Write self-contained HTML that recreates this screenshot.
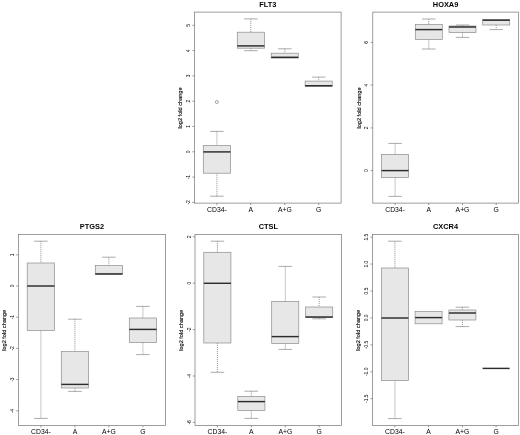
<!DOCTYPE html>
<html><head><meta charset="utf-8"><title>boxplots</title>
<style>
html,body{margin:0;padding:0;background:#fff;}
svg{display:block;font-family:"Liberation Sans",Arial,sans-serif;}
</style></head><body>
<svg width="520" height="435" viewBox="0 0 520 435">
<rect width="520" height="435" fill="#fff"/>
<rect x="194.5" y="12.1" width="146.6" height="191.0" fill="none" stroke="#747474" stroke-width="0.7"/>
<text x="267.8" y="6.7" text-anchor="middle" font-size="7.4" font-weight="bold" fill="#000">FLT3</text>
<line x1="192.3" y1="25.3" x2="194.5" y2="25.3" stroke="#747474" stroke-width="0.7" />
<text transform="translate(190.1,25.3) rotate(-90)" text-anchor="middle" font-size="4.9" fill="#000">5</text>
<line x1="192.3" y1="50.6" x2="194.5" y2="50.6" stroke="#747474" stroke-width="0.7" />
<text transform="translate(190.1,50.6) rotate(-90)" text-anchor="middle" font-size="4.9" fill="#000">4</text>
<line x1="192.3" y1="75.9" x2="194.5" y2="75.9" stroke="#747474" stroke-width="0.7" />
<text transform="translate(190.1,75.9) rotate(-90)" text-anchor="middle" font-size="4.9" fill="#000">3</text>
<line x1="192.3" y1="101.2" x2="194.5" y2="101.2" stroke="#747474" stroke-width="0.7" />
<text transform="translate(190.1,101.2) rotate(-90)" text-anchor="middle" font-size="4.9" fill="#000">2</text>
<line x1="192.3" y1="126.5" x2="194.5" y2="126.5" stroke="#747474" stroke-width="0.7" />
<text transform="translate(190.1,126.5) rotate(-90)" text-anchor="middle" font-size="4.9" fill="#000">1</text>
<line x1="192.3" y1="151.8" x2="194.5" y2="151.8" stroke="#747474" stroke-width="0.7" />
<text transform="translate(190.1,151.8) rotate(-90)" text-anchor="middle" font-size="4.9" fill="#000">0</text>
<line x1="192.3" y1="177.1" x2="194.5" y2="177.1" stroke="#747474" stroke-width="0.7" />
<text transform="translate(190.1,177.1) rotate(-90)" text-anchor="middle" font-size="4.9" fill="#000">-1</text>
<line x1="192.3" y1="202.4" x2="194.5" y2="202.4" stroke="#747474" stroke-width="0.7" />
<text transform="translate(190.1,202.4) rotate(-90)" text-anchor="middle" font-size="4.9" fill="#000">-2</text>
<text transform="translate(182.2,108.0) rotate(-90)" text-anchor="middle" font-size="5.6" fill="#000" stroke="#000" stroke-width="0.12">log2 fold change</text>
<line x1="216.9" y1="203.1" x2="216.9" y2="205.1" stroke="#747474" stroke-width="0.7" />
<text x="216.9" y="211.5" text-anchor="middle" font-size="6.8" fill="#000">CD34-</text>
<line x1="250.8" y1="203.1" x2="250.8" y2="205.1" stroke="#747474" stroke-width="0.7" />
<text x="250.8" y="211.5" text-anchor="middle" font-size="6.8" fill="#000">A</text>
<line x1="284.8" y1="203.1" x2="284.8" y2="205.1" stroke="#747474" stroke-width="0.7" />
<text x="284.8" y="211.5" text-anchor="middle" font-size="6.8" fill="#000">A+G</text>
<line x1="318.7" y1="203.1" x2="318.7" y2="205.1" stroke="#747474" stroke-width="0.7" />
<text x="318.7" y="211.5" text-anchor="middle" font-size="6.8" fill="#000">G</text>
<line x1="216.9" y1="131.4" x2="216.9" y2="145.5" stroke="#707070" stroke-width="0.7" stroke-dasharray="1.1 0.9"/>
<line x1="210.1" y1="131.4" x2="223.7" y2="131.4" stroke="#868686" stroke-width="0.7" />
<line x1="216.9" y1="173.2" x2="216.9" y2="196.2" stroke="#707070" stroke-width="0.7" stroke-dasharray="1.1 0.9"/>
<line x1="210.1" y1="196.2" x2="223.7" y2="196.2" stroke="#868686" stroke-width="0.7" />
<rect x="203.3" y="145.5" width="27.1" height="27.7" fill="#e7e7e7" stroke="#8c8c8c" stroke-width="0.7"/>
<line x1="203.3" y1="151.9" x2="230.5" y2="151.9" stroke="#2c2c2c" stroke-width="1.45" />
<line x1="250.8" y1="18.9" x2="250.8" y2="32.2" stroke="#707070" stroke-width="0.7" stroke-dasharray="1.1 0.9"/>
<line x1="244.0" y1="18.9" x2="257.6" y2="18.9" stroke="#868686" stroke-width="0.7" />
<line x1="250.8" y1="48.2" x2="250.8" y2="50.7" stroke="#707070" stroke-width="0.7" stroke-dasharray="1.1 0.9"/>
<line x1="244.0" y1="50.7" x2="257.6" y2="50.7" stroke="#868686" stroke-width="0.7" />
<rect x="237.3" y="32.2" width="27.1" height="16.0" fill="#e7e7e7" stroke="#8c8c8c" stroke-width="0.7"/>
<line x1="237.3" y1="45.9" x2="264.4" y2="45.9" stroke="#2c2c2c" stroke-width="1.45" />
<line x1="284.8" y1="48.8" x2="284.8" y2="53.2" stroke="#707070" stroke-width="0.7" stroke-dasharray="1.1 0.9"/>
<line x1="278.0" y1="48.8" x2="291.6" y2="48.8" stroke="#868686" stroke-width="0.7" />
<rect x="271.2" y="53.2" width="27.1" height="4.9" fill="#e7e7e7" stroke="#8c8c8c" stroke-width="0.7"/>
<line x1="271.2" y1="57.3" x2="298.3" y2="57.3" stroke="#2c2c2c" stroke-width="1.45" />
<line x1="318.7" y1="77.1" x2="318.7" y2="81.1" stroke="#707070" stroke-width="0.7" stroke-dasharray="1.1 0.9"/>
<line x1="311.9" y1="77.1" x2="325.5" y2="77.1" stroke="#868686" stroke-width="0.7" />
<rect x="305.1" y="81.1" width="27.1" height="5.5" fill="#e7e7e7" stroke="#8c8c8c" stroke-width="0.7"/>
<line x1="305.1" y1="85.7" x2="332.3" y2="85.7" stroke="#2c2c2c" stroke-width="1.45" />
<circle cx="216.9" cy="102.0" r="1.5" fill="none" stroke="#707070" stroke-width="0.6"/>
<rect x="372.8" y="12.1" width="145.7" height="191.0" fill="none" stroke="#747474" stroke-width="0.7"/>
<text x="445.6" y="6.7" text-anchor="middle" font-size="7.4" font-weight="bold" fill="#000">HOXA9</text>
<line x1="370.6" y1="42.4" x2="372.8" y2="42.4" stroke="#747474" stroke-width="0.7" />
<text transform="translate(368.4,42.4) rotate(-90)" text-anchor="middle" font-size="4.9" fill="#000">6</text>
<line x1="370.6" y1="85.1" x2="372.8" y2="85.1" stroke="#747474" stroke-width="0.7" />
<text transform="translate(368.4,85.1) rotate(-90)" text-anchor="middle" font-size="4.9" fill="#000">4</text>
<line x1="370.6" y1="127.9" x2="372.8" y2="127.9" stroke="#747474" stroke-width="0.7" />
<text transform="translate(368.4,127.9) rotate(-90)" text-anchor="middle" font-size="4.9" fill="#000">2</text>
<line x1="370.6" y1="170.6" x2="372.8" y2="170.6" stroke="#747474" stroke-width="0.7" />
<text transform="translate(368.4,170.6) rotate(-90)" text-anchor="middle" font-size="4.9" fill="#000">0</text>
<text transform="translate(360.5,108.0) rotate(-90)" text-anchor="middle" font-size="5.6" fill="#000" stroke="#000" stroke-width="0.12">log2 fold change</text>
<line x1="395.1" y1="203.1" x2="395.1" y2="205.1" stroke="#747474" stroke-width="0.7" />
<text x="395.1" y="211.5" text-anchor="middle" font-size="6.8" fill="#000">CD34-</text>
<line x1="428.8" y1="203.1" x2="428.8" y2="205.1" stroke="#747474" stroke-width="0.7" />
<text x="428.8" y="211.5" text-anchor="middle" font-size="6.8" fill="#000">A</text>
<line x1="462.5" y1="203.1" x2="462.5" y2="205.1" stroke="#747474" stroke-width="0.7" />
<text x="462.5" y="211.5" text-anchor="middle" font-size="6.8" fill="#000">A+G</text>
<line x1="496.2" y1="203.1" x2="496.2" y2="205.1" stroke="#747474" stroke-width="0.7" />
<text x="496.2" y="211.5" text-anchor="middle" font-size="6.8" fill="#000">G</text>
<line x1="395.1" y1="143.4" x2="395.1" y2="154.4" stroke="#707070" stroke-width="0.7" stroke-dasharray="1.1 0.9"/>
<line x1="388.3" y1="143.4" x2="401.8" y2="143.4" stroke="#868686" stroke-width="0.7" />
<line x1="395.1" y1="177.4" x2="395.1" y2="196.4" stroke="#707070" stroke-width="0.7" stroke-dasharray="1.1 0.9"/>
<line x1="388.3" y1="196.4" x2="401.8" y2="196.4" stroke="#868686" stroke-width="0.7" />
<rect x="381.6" y="154.4" width="27.0" height="23.0" fill="#e7e7e7" stroke="#8c8c8c" stroke-width="0.7"/>
<line x1="381.6" y1="170.6" x2="408.6" y2="170.6" stroke="#2c2c2c" stroke-width="1.45" />
<line x1="428.8" y1="19.0" x2="428.8" y2="24.4" stroke="#707070" stroke-width="0.7" stroke-dasharray="1.1 0.9"/>
<line x1="422.0" y1="19.0" x2="435.5" y2="19.0" stroke="#868686" stroke-width="0.7" />
<line x1="428.8" y1="39.6" x2="428.8" y2="49.0" stroke="#707070" stroke-width="0.7" stroke-dasharray="1.1 0.9"/>
<line x1="422.0" y1="49.0" x2="435.5" y2="49.0" stroke="#868686" stroke-width="0.7" />
<rect x="415.3" y="24.4" width="27.0" height="15.2" fill="#e7e7e7" stroke="#8c8c8c" stroke-width="0.7"/>
<line x1="415.3" y1="29.6" x2="442.3" y2="29.6" stroke="#2c2c2c" stroke-width="1.45" />
<line x1="462.5" y1="25.0" x2="462.5" y2="26.0" stroke="#707070" stroke-width="0.7" stroke-dasharray="1.1 0.9"/>
<line x1="455.8" y1="25.0" x2="469.3" y2="25.0" stroke="#868686" stroke-width="0.7" />
<line x1="462.5" y1="32.4" x2="462.5" y2="37.4" stroke="#707070" stroke-width="0.7" stroke-dasharray="1.1 0.9"/>
<line x1="455.8" y1="37.4" x2="469.3" y2="37.4" stroke="#868686" stroke-width="0.7" />
<rect x="449.0" y="26.0" width="27.0" height="6.4" fill="#e7e7e7" stroke="#8c8c8c" stroke-width="0.7"/>
<line x1="449.0" y1="27.0" x2="476.0" y2="27.0" stroke="#2c2c2c" stroke-width="1.45" />
<line x1="496.2" y1="25.0" x2="496.2" y2="29.6" stroke="#707070" stroke-width="0.7" stroke-dasharray="1.1 0.9"/>
<line x1="489.5" y1="29.6" x2="503.0" y2="29.6" stroke="#868686" stroke-width="0.7" />
<rect x="482.7" y="19.4" width="27.0" height="5.6" fill="#e7e7e7" stroke="#8c8c8c" stroke-width="0.7"/>
<line x1="482.7" y1="20.2" x2="509.7" y2="20.2" stroke="#2c2c2c" stroke-width="1.45" />
<rect x="18.4" y="234.4" width="147.0" height="191.0" fill="none" stroke="#747474" stroke-width="0.7"/>
<text x="91.9" y="229.0" text-anchor="middle" font-size="7.4" font-weight="bold" fill="#000">PTGS2</text>
<line x1="16.2" y1="254.8" x2="18.4" y2="254.8" stroke="#747474" stroke-width="0.7" />
<text transform="translate(14.0,254.8) rotate(-90)" text-anchor="middle" font-size="4.9" fill="#000">1</text>
<line x1="16.2" y1="286.0" x2="18.4" y2="286.0" stroke="#747474" stroke-width="0.7" />
<text transform="translate(14.0,286.0) rotate(-90)" text-anchor="middle" font-size="4.9" fill="#000">0</text>
<line x1="16.2" y1="317.2" x2="18.4" y2="317.2" stroke="#747474" stroke-width="0.7" />
<text transform="translate(14.0,317.2) rotate(-90)" text-anchor="middle" font-size="4.9" fill="#000">-1</text>
<line x1="16.2" y1="348.4" x2="18.4" y2="348.4" stroke="#747474" stroke-width="0.7" />
<text transform="translate(14.0,348.4) rotate(-90)" text-anchor="middle" font-size="4.9" fill="#000">-2</text>
<line x1="16.2" y1="379.6" x2="18.4" y2="379.6" stroke="#747474" stroke-width="0.7" />
<text transform="translate(14.0,379.6) rotate(-90)" text-anchor="middle" font-size="4.9" fill="#000">-3</text>
<line x1="16.2" y1="410.9" x2="18.4" y2="410.9" stroke="#747474" stroke-width="0.7" />
<text transform="translate(14.0,410.9) rotate(-90)" text-anchor="middle" font-size="4.9" fill="#000">-4</text>
<text transform="translate(6.1,330.3) rotate(-90)" text-anchor="middle" font-size="5.6" fill="#000" stroke="#000" stroke-width="0.12">log2 fold change</text>
<line x1="40.9" y1="425.4" x2="40.9" y2="427.4" stroke="#747474" stroke-width="0.7" />
<text x="40.9" y="433.8" text-anchor="middle" font-size="6.8" fill="#000">CD34-</text>
<line x1="74.9" y1="425.4" x2="74.9" y2="427.4" stroke="#747474" stroke-width="0.7" />
<text x="74.9" y="433.8" text-anchor="middle" font-size="6.8" fill="#000">A</text>
<line x1="108.9" y1="425.4" x2="108.9" y2="427.4" stroke="#747474" stroke-width="0.7" />
<text x="108.9" y="433.8" text-anchor="middle" font-size="6.8" fill="#000">A+G</text>
<line x1="142.9" y1="425.4" x2="142.9" y2="427.4" stroke="#747474" stroke-width="0.7" />
<text x="142.9" y="433.8" text-anchor="middle" font-size="6.8" fill="#000">G</text>
<line x1="40.9" y1="241.2" x2="40.9" y2="263.0" stroke="#707070" stroke-width="0.7" stroke-dasharray="1.1 0.9"/>
<line x1="34.1" y1="241.2" x2="47.7" y2="241.2" stroke="#868686" stroke-width="0.7" />
<line x1="40.9" y1="330.4" x2="40.9" y2="418.4" stroke="#707070" stroke-width="0.7" stroke-dasharray="1.1 0.9"/>
<line x1="34.1" y1="418.4" x2="47.7" y2="418.4" stroke="#868686" stroke-width="0.7" />
<rect x="27.2" y="263.0" width="27.2" height="67.4" fill="#e7e7e7" stroke="#8c8c8c" stroke-width="0.7"/>
<line x1="27.2" y1="286.0" x2="54.5" y2="286.0" stroke="#2c2c2c" stroke-width="1.45" />
<line x1="74.9" y1="319.2" x2="74.9" y2="351.6" stroke="#707070" stroke-width="0.7" stroke-dasharray="1.1 0.9"/>
<line x1="68.1" y1="319.2" x2="81.7" y2="319.2" stroke="#868686" stroke-width="0.7" />
<line x1="74.9" y1="388.0" x2="74.9" y2="391.4" stroke="#707070" stroke-width="0.7" stroke-dasharray="1.1 0.9"/>
<line x1="68.1" y1="391.4" x2="81.7" y2="391.4" stroke="#868686" stroke-width="0.7" />
<rect x="61.3" y="351.6" width="27.2" height="36.4" fill="#e7e7e7" stroke="#8c8c8c" stroke-width="0.7"/>
<line x1="61.3" y1="384.4" x2="88.5" y2="384.4" stroke="#2c2c2c" stroke-width="1.45" />
<line x1="108.9" y1="257.2" x2="108.9" y2="265.6" stroke="#707070" stroke-width="0.7" stroke-dasharray="1.1 0.9"/>
<line x1="102.1" y1="257.2" x2="115.7" y2="257.2" stroke="#868686" stroke-width="0.7" />
<rect x="95.3" y="265.6" width="27.2" height="8.8" fill="#e7e7e7" stroke="#8c8c8c" stroke-width="0.7"/>
<line x1="95.3" y1="273.9" x2="122.5" y2="273.9" stroke="#2c2c2c" stroke-width="1.45" />
<line x1="142.9" y1="306.4" x2="142.9" y2="318.0" stroke="#707070" stroke-width="0.7" stroke-dasharray="1.1 0.9"/>
<line x1="136.1" y1="306.4" x2="149.7" y2="306.4" stroke="#868686" stroke-width="0.7" />
<line x1="142.9" y1="342.6" x2="142.9" y2="354.6" stroke="#707070" stroke-width="0.7" stroke-dasharray="1.1 0.9"/>
<line x1="136.1" y1="354.6" x2="149.7" y2="354.6" stroke="#868686" stroke-width="0.7" />
<rect x="129.3" y="318.0" width="27.2" height="24.6" fill="#e7e7e7" stroke="#8c8c8c" stroke-width="0.7"/>
<line x1="129.3" y1="329.4" x2="156.6" y2="329.4" stroke="#2c2c2c" stroke-width="1.45" />
<rect x="195.0" y="234.4" width="146.6" height="191.0" fill="none" stroke="#747474" stroke-width="0.7"/>
<text x="268.3" y="229.0" text-anchor="middle" font-size="7.4" font-weight="bold" fill="#000">CTSL</text>
<line x1="192.8" y1="236.8" x2="195.0" y2="236.8" stroke="#747474" stroke-width="0.7" />
<text transform="translate(190.6,236.8) rotate(-90)" text-anchor="middle" font-size="4.9" fill="#000">2</text>
<line x1="192.8" y1="283.2" x2="195.0" y2="283.2" stroke="#747474" stroke-width="0.7" />
<text transform="translate(190.6,283.2) rotate(-90)" text-anchor="middle" font-size="4.9" fill="#000">0</text>
<line x1="192.8" y1="329.6" x2="195.0" y2="329.6" stroke="#747474" stroke-width="0.7" />
<text transform="translate(190.6,329.6) rotate(-90)" text-anchor="middle" font-size="4.9" fill="#000">-2</text>
<line x1="192.8" y1="376.0" x2="195.0" y2="376.0" stroke="#747474" stroke-width="0.7" />
<text transform="translate(190.6,376.0) rotate(-90)" text-anchor="middle" font-size="4.9" fill="#000">-4</text>
<line x1="192.8" y1="422.4" x2="195.0" y2="422.4" stroke="#747474" stroke-width="0.7" />
<text transform="translate(190.6,422.4) rotate(-90)" text-anchor="middle" font-size="4.9" fill="#000">-6</text>
<text transform="translate(182.7,330.3) rotate(-90)" text-anchor="middle" font-size="5.6" fill="#000" stroke="#000" stroke-width="0.12">log2 fold change</text>
<line x1="217.4" y1="425.4" x2="217.4" y2="427.4" stroke="#747474" stroke-width="0.7" />
<text x="217.4" y="433.8" text-anchor="middle" font-size="6.8" fill="#000">CD34-</text>
<line x1="251.3" y1="425.4" x2="251.3" y2="427.4" stroke="#747474" stroke-width="0.7" />
<text x="251.3" y="433.8" text-anchor="middle" font-size="6.8" fill="#000">A</text>
<line x1="285.3" y1="425.4" x2="285.3" y2="427.4" stroke="#747474" stroke-width="0.7" />
<text x="285.3" y="433.8" text-anchor="middle" font-size="6.8" fill="#000">A+G</text>
<line x1="319.2" y1="425.4" x2="319.2" y2="427.4" stroke="#747474" stroke-width="0.7" />
<text x="319.2" y="433.8" text-anchor="middle" font-size="6.8" fill="#000">G</text>
<line x1="217.4" y1="241.2" x2="217.4" y2="252.3" stroke="#707070" stroke-width="0.7" stroke-dasharray="1.1 0.9"/>
<line x1="210.6" y1="241.2" x2="224.2" y2="241.2" stroke="#868686" stroke-width="0.7" />
<line x1="217.4" y1="343.0" x2="217.4" y2="372.3" stroke="#707070" stroke-width="0.7" stroke-dasharray="1.1 0.9"/>
<line x1="210.6" y1="372.3" x2="224.2" y2="372.3" stroke="#868686" stroke-width="0.7" />
<rect x="203.8" y="252.3" width="27.1" height="90.7" fill="#e7e7e7" stroke="#8c8c8c" stroke-width="0.7"/>
<line x1="203.8" y1="283.3" x2="231.0" y2="283.3" stroke="#2c2c2c" stroke-width="1.45" />
<line x1="251.3" y1="391.2" x2="251.3" y2="396.4" stroke="#707070" stroke-width="0.7" stroke-dasharray="1.1 0.9"/>
<line x1="244.5" y1="391.2" x2="258.1" y2="391.2" stroke="#868686" stroke-width="0.7" />
<line x1="251.3" y1="410.4" x2="251.3" y2="418.4" stroke="#707070" stroke-width="0.7" stroke-dasharray="1.1 0.9"/>
<line x1="244.5" y1="418.4" x2="258.1" y2="418.4" stroke="#868686" stroke-width="0.7" />
<rect x="237.8" y="396.4" width="27.1" height="14.0" fill="#e7e7e7" stroke="#8c8c8c" stroke-width="0.7"/>
<line x1="237.8" y1="401.6" x2="264.9" y2="401.6" stroke="#2c2c2c" stroke-width="1.45" />
<line x1="285.3" y1="266.4" x2="285.3" y2="301.4" stroke="#707070" stroke-width="0.7" stroke-dasharray="1.1 0.9"/>
<line x1="278.5" y1="266.4" x2="292.1" y2="266.4" stroke="#868686" stroke-width="0.7" />
<line x1="285.3" y1="343.4" x2="285.3" y2="349.4" stroke="#707070" stroke-width="0.7" stroke-dasharray="1.1 0.9"/>
<line x1="278.5" y1="349.4" x2="292.1" y2="349.4" stroke="#868686" stroke-width="0.7" />
<rect x="271.7" y="301.4" width="27.1" height="42.0" fill="#e7e7e7" stroke="#8c8c8c" stroke-width="0.7"/>
<line x1="271.7" y1="336.6" x2="298.8" y2="336.6" stroke="#2c2c2c" stroke-width="1.45" />
<line x1="319.2" y1="297.0" x2="319.2" y2="307.0" stroke="#707070" stroke-width="0.7" stroke-dasharray="1.1 0.9"/>
<line x1="312.4" y1="297.0" x2="326.0" y2="297.0" stroke="#868686" stroke-width="0.7" />
<line x1="319.2" y1="317.6" x2="319.2" y2="318.8" stroke="#707070" stroke-width="0.7" stroke-dasharray="1.1 0.9"/>
<line x1="312.4" y1="318.8" x2="326.0" y2="318.8" stroke="#868686" stroke-width="0.7" />
<rect x="305.6" y="307.0" width="27.1" height="10.6" fill="#e7e7e7" stroke="#8c8c8c" stroke-width="0.7"/>
<line x1="305.6" y1="317.0" x2="332.8" y2="317.0" stroke="#2c2c2c" stroke-width="1.45" />
<rect x="372.6" y="234.4" width="145.8" height="191.0" fill="none" stroke="#747474" stroke-width="0.7"/>
<text x="445.5" y="229.0" text-anchor="middle" font-size="7.4" font-weight="bold" fill="#000">CXCR4</text>
<line x1="370.4" y1="237.2" x2="372.6" y2="237.2" stroke="#747474" stroke-width="0.7" />
<text transform="translate(368.2,237.2) rotate(-90)" text-anchor="middle" font-size="4.9" fill="#000">1.5</text>
<line x1="370.4" y1="264.1" x2="372.6" y2="264.1" stroke="#747474" stroke-width="0.7" />
<text transform="translate(368.2,264.1) rotate(-90)" text-anchor="middle" font-size="4.9" fill="#000">1.0</text>
<line x1="370.4" y1="291.0" x2="372.6" y2="291.0" stroke="#747474" stroke-width="0.7" />
<text transform="translate(368.2,291.0) rotate(-90)" text-anchor="middle" font-size="4.9" fill="#000">0.5</text>
<line x1="370.4" y1="317.9" x2="372.6" y2="317.9" stroke="#747474" stroke-width="0.7" />
<text transform="translate(368.2,317.9) rotate(-90)" text-anchor="middle" font-size="4.9" fill="#000">0.0</text>
<line x1="370.4" y1="344.9" x2="372.6" y2="344.9" stroke="#747474" stroke-width="0.7" />
<text transform="translate(368.2,344.9) rotate(-90)" text-anchor="middle" font-size="4.9" fill="#000">-0.5</text>
<line x1="370.4" y1="371.8" x2="372.6" y2="371.8" stroke="#747474" stroke-width="0.7" />
<text transform="translate(368.2,371.8) rotate(-90)" text-anchor="middle" font-size="4.9" fill="#000">-1.0</text>
<line x1="370.4" y1="398.7" x2="372.6" y2="398.7" stroke="#747474" stroke-width="0.7" />
<text transform="translate(368.2,398.7) rotate(-90)" text-anchor="middle" font-size="4.9" fill="#000">-1.5</text>
<text transform="translate(360.3,330.3) rotate(-90)" text-anchor="middle" font-size="5.6" fill="#000" stroke="#000" stroke-width="0.12">log2 fold change</text>
<line x1="394.9" y1="425.4" x2="394.9" y2="427.4" stroke="#747474" stroke-width="0.7" />
<text x="394.9" y="433.8" text-anchor="middle" font-size="6.8" fill="#000">CD34-</text>
<line x1="428.6" y1="425.4" x2="428.6" y2="427.4" stroke="#747474" stroke-width="0.7" />
<text x="428.6" y="433.8" text-anchor="middle" font-size="6.8" fill="#000">A</text>
<line x1="462.4" y1="425.4" x2="462.4" y2="427.4" stroke="#747474" stroke-width="0.7" />
<text x="462.4" y="433.8" text-anchor="middle" font-size="6.8" fill="#000">A+G</text>
<line x1="496.1" y1="425.4" x2="496.1" y2="427.4" stroke="#747474" stroke-width="0.7" />
<text x="496.1" y="433.8" text-anchor="middle" font-size="6.8" fill="#000">G</text>
<line x1="394.9" y1="241.2" x2="394.9" y2="268.0" stroke="#707070" stroke-width="0.7" stroke-dasharray="1.1 0.9"/>
<line x1="388.1" y1="241.2" x2="401.6" y2="241.2" stroke="#868686" stroke-width="0.7" />
<line x1="394.9" y1="380.4" x2="394.9" y2="418.6" stroke="#707070" stroke-width="0.7" stroke-dasharray="1.1 0.9"/>
<line x1="388.1" y1="418.6" x2="401.6" y2="418.6" stroke="#868686" stroke-width="0.7" />
<rect x="381.4" y="268.0" width="27.0" height="112.4" fill="#e7e7e7" stroke="#8c8c8c" stroke-width="0.7"/>
<line x1="381.4" y1="318.0" x2="408.4" y2="318.0" stroke="#2c2c2c" stroke-width="1.45" />
<rect x="415.1" y="311.4" width="27.0" height="12.4" fill="#e7e7e7" stroke="#8c8c8c" stroke-width="0.7"/>
<line x1="415.1" y1="317.6" x2="442.1" y2="317.6" stroke="#2c2c2c" stroke-width="1.45" />
<line x1="462.4" y1="307.2" x2="462.4" y2="310.0" stroke="#707070" stroke-width="0.7" stroke-dasharray="1.1 0.9"/>
<line x1="455.6" y1="307.2" x2="469.1" y2="307.2" stroke="#868686" stroke-width="0.7" />
<line x1="462.4" y1="320.0" x2="462.4" y2="326.6" stroke="#707070" stroke-width="0.7" stroke-dasharray="1.1 0.9"/>
<line x1="455.6" y1="326.6" x2="469.1" y2="326.6" stroke="#868686" stroke-width="0.7" />
<rect x="448.9" y="310.0" width="27.0" height="10.0" fill="#e7e7e7" stroke="#8c8c8c" stroke-width="0.7"/>
<line x1="448.9" y1="313.0" x2="475.9" y2="313.0" stroke="#2c2c2c" stroke-width="1.45" />
<line x1="482.6" y1="368.4" x2="509.6" y2="368.4" stroke="#2c2c2c" stroke-width="1.45" />
</svg>
</body></html>
